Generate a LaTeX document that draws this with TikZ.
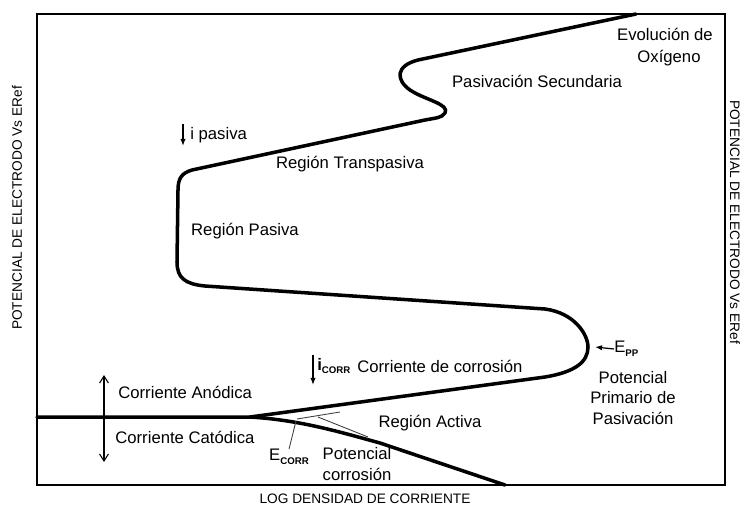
\documentclass[tikz,border=0pt]{standalone}
\usepackage{fontspec}
\setmainfont{Liberation Sans}
\usetikzlibrary{arrows.meta}
\tikzset{
  lbl/.style  ={font=\fontsize{9.5}{11.5}\selectfont,inner sep=0pt,align=center},
  axlbl/.style={font=\fontsize{7.8}{9}\selectfont,inner sep=0pt},
  curve/.style={line width=2pt,line join=round,line cap=round},
  thinln/.style={line width=0.5pt,black!75},
  frame/.style={line width=1.6pt},
  iarrow/.style={-{Latex[length=4pt,width=3pt]},line width=0.7pt},
  dblarrow/.style={{Straight Barb[length=4pt,width=5pt]}-{Straight Barb[length=4pt,width=5pt]},line width=0.6pt},
}
\newcommand{\subs}[1]{\raisebox{-0.4ex}{\fontsize{5.5}{6}\selectfont\bfseries #1}}

\begin{document}
\begin{tikzpicture}[x=0.02cm,y=-0.02cm]
  \useasboundingbox (0,0) rectangle (750,511);
  % frame and axes
  \draw[frame] (37,14) rectangle (725,485);
  \node[axlbl,rotate=90]  (ylab)  at (17,208)  {POTENCIAL DE ELECTRODO Vs ERef};
  \node[axlbl,rotate=-90] (ylabr) at (735,222) {POTENCIAL DE ELECTRODO Vs ERef};
  \node[axlbl] (xlab) at (365,499) {LOG DENSIDAD DE CORRIENTE};
  % anodic curve
  \draw[curve] (636,14) -- (418,60) .. controls (395,66) and (396,80) .. (410,90)
    .. controls (425,100) and (450,104) .. (445,113) .. controls (442,118) and (435,118) .. (425,120)
    -- (192,170) .. controls (182,173) and (178,178) .. (178,190)
    -- (177,262) .. controls (177,278) and (185,284) .. (205,286)
    -- (545,309) .. controls (575,313) and (588,335) .. (588,347)
    .. controls (588,362) and (575,372) .. (545,377) -- (250,417);
  % cathodic curve
  \draw[curve] (37,417) -- (250,417) .. controls (300,420) and (340,432) .. (380,443) -- (505,485);
  % tafel lines
  \draw[thinln] (297,419) -- (340,412);
  \draw[thinln] (318,417) -- (368,437);
  % labels
  \node[lbl] (evol) at (665,34) {Evolución de};
  \node[lbl] (oxig) at (669,58) {Oxígeno};
  \node[lbl] (psec) at (537,81) {Pasivación Secundaria};
  \node[lbl,anchor=west] (ipas) at (190,135) {i pasiva};
  \node[lbl] (rtrans) at (350,164) {Región Transpasiva};
  \node[lbl] (rpas) at (245,231) {Región Pasiva};
  \node[lbl,anchor=west] (icorr) at (317,366) {\textbf{i}\subs{CORR}};
  \node[lbl,anchor=west] (ccorr) at (357,366) {Corriente de corrosión};
  \node[lbl,anchor=west] (canod) at (118,392) {Corriente Anódica};
  \node[lbl,anchor=west] (ccat)  at (115,437) {Corriente Catódica};
  \node[lbl] (ractiva) at (430,423) {Región Activa};
  \node[lbl] (ecorr) at (289,457) {E\subs{CORR}};
  \node[lbl] (pcorr) at (357,464) {Potencial\\corrosión};
  \node[lbl,anchor=west] (epp) at (614,349) {E\subs{PP}};
  \node[lbl] (pprim) at (633,398) {Potencial\\Primario de\\Pasivación};
  % arrows
  \coordinate (ip1) at (183,124);
  \coordinate (ip2) at (183,146);
  \draw[iarrow] (ip1) -- (ip2);
  \coordinate (ic1) at (313,355);
  \coordinate (ic2) at (313,385);
  \draw[iarrow] (ic1) -- (ic2);
  \coordinate (anod) at (104,375);
  \coordinate (catod) at (104,462);
  \draw[dblarrow] (anod) -- (catod);
  \coordinate (ep) at (296,421);
  \draw[thinln] (ecorr.north) -- (ep);
  \coordinate (nose) at (595,347);
  \draw[iarrow] (epp.west) -- (nose);
\end{tikzpicture}
\end{document}
